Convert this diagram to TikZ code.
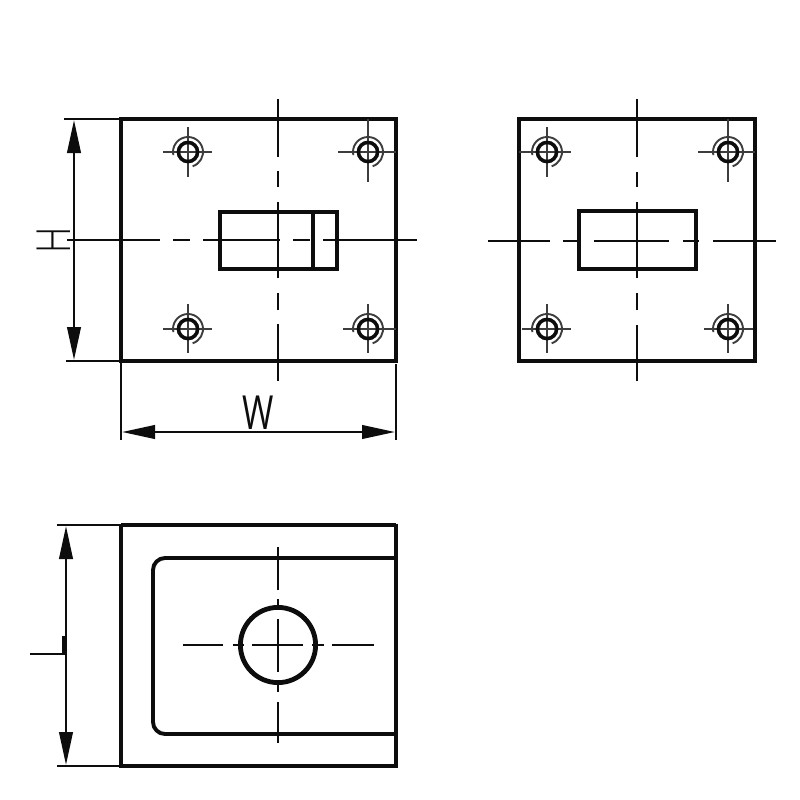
\documentclass[tikz,border=0pt]{standalone}
\usepackage{fontspec}
\setmainfont{Open Sans}
\newfontfamily\lightfont[UprightFont=* Light]{Open Sans}
\usetikzlibrary{arrows.meta}
\definecolor{ink}{HTML}{0D0D0D}
\tikzset{
  x=1pt,y=-1pt,
  heavy/.style={draw=ink,line width=4.1pt,line join=miter},
  medium/.style={draw=ink,line width=3.9pt},
  centre/.style={draw=ink,line width=2.6pt},
  dimline/.style={draw=ink,line width=2.5pt},
  dimarrow/.style={draw=ink,line width=2.5pt,{Triangle[length=33pt,width=13.5pt]}-{Triangle[length=33pt,width=13.5pt]}},
  holeline/.style={draw=ink!80,line width=2.4pt},
  holering/.style={draw=ink,line width=3.6pt},
  holearc/.style={draw=ink!80,line width=1.9pt},
  label/.style={inner sep=0pt,text=ink,font=\fontsize{47}{47}\selectfont}
}
% centre x, centre y, left x, right x, top y, bottom y
\newcommand{\holemark}[6]{%
  \draw[holeline] (#3,#2) -- (#4,#2);
  \draw[holeline] (#1,#5) -- (#1,#6);
  \draw[holearc] (#1,#2) ++(192:15pt) arc[start angle=192,end angle=-72,radius=15pt];
  \draw[holering] (#1,#2) circle[radius=9.6pt];
}
\begin{document}
\begin{tikzpicture}
\useasboundingbox[fill=white] (0,0) rectangle (800,800);
% ---- front view
\draw[centre] (278,99)--(278,157) (278,171)--(278,187) (278,202)--(278,278) (278,293)--(278,310) (278,324)--(278,381);
\draw[centre] (67,240)--(160,240) (173,240)--(190,240) (203,240)--(280,240) (293,240)--(310,240) (323,240)--(417,240);
\draw[heavy] (121,119) rectangle (396,361);
\draw[heavy] (220,212) rectangle (337,269);
\draw[heavy] (313,212)--(313,269);
\holemark{188}{152}{163}{212}{127}{177}
\holemark{368}{152}{338}{396}{119}{182}
\holemark{188}{329}{163}{212}{304}{353}
\holemark{368}{329}{343}{396}{304}{353}
% dimensions of the front view
\draw[dimline] (64,119)--(120,119) (66,361)--(120,361);
\draw[dimarrow] (74,120)--(74,360);
\node[label,rotate=90] (hlabel) at (54,240) {\lightfont\scalebox{0.78}[1]{H}};
\draw[dimline] (121,363)--(121,440) (396,364)--(396,440);
\draw[dimarrow] (122,432)--(395,432);
\node[label] (wlabel) at (258.5,413) {\scalebox{0.72}[1]{W}};
% ---- side view
\draw[centre] (637,99)--(637,157) (637,172)--(637,187) (637,202)--(637,278) (637,293)--(637,310) (637,325)--(637,381);
\draw[centre] (488,241)--(550,241) (563,241)--(580,241) (594,241)--(669,241) (683,241)--(699,241) (713,241)--(776,241);
\draw[heavy] (519,119) rectangle (755,361);
\draw[heavy] (579,211) rectangle (696,269);
\holemark{547}{152}{519}{571}{127}{177}
\holemark{728}{152}{698}{755}{119}{182}
\holemark{547}{329}{522}{571}{304}{353}
\holemark{728}{329}{704}{753}{304}{353}
% ---- top view
\draw[centre] (278,547)--(278,590) (278,599)--(278,610) (278,619)--(278,672) (278,682)--(278,692) (278,702)--(278,743);
\draw[centre] (183,645)--(223,645) (233,645)--(244,645) (252,645)--(303,645) (312,645)--(324,645) (332,645)--(374,645);
\draw[medium,rounded corners=12pt] (394,558) -- (153,558) -- (153,734) -- (394,734);
\draw[draw=ink,line width=3.2pt] (121,525)--(396,525) (121,766)--(396,766);
\draw[heavy] (121,523.5)--(121,767.5) (396,523.5)--(396,767.5);
\draw[draw=ink,line width=4.8pt] (278,645) circle[radius=37.6pt];
% dimensions of the top view
\draw[dimline] (57,525)--(120,525) (57,766)--(120,766);
\draw[dimarrow] (66,526)--(66,765);
\draw[dimline] (30,654)--(64,654);
\draw[draw=ink,line width=3pt] (63,636)--(63,655);
\end{tikzpicture}
\end{document}
